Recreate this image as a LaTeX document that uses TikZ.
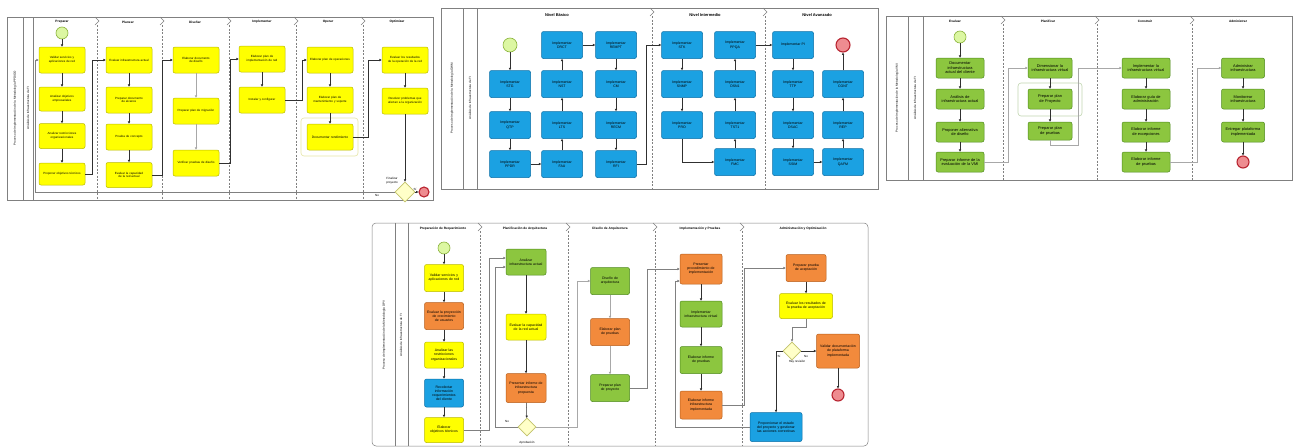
\documentclass[tikz,border=0pt]{standalone}
\usepackage{fontspec}
\setmainfont{Liberation Sans}
\usetikzlibrary{arrows.meta,shapes.geometric}
\hyphenpenalty=10000
\exhyphenpenalty=10000

\definecolor{yelF}{HTML}{FFFF00}\definecolor{yelD}{HTML}{B9B900}
\definecolor{bluF}{HTML}{1BA1E2}\definecolor{bluD}{HTML}{0B6FA6}
\definecolor{grnF}{HTML}{8CC63F}\definecolor{grnD}{HTML}{4E8A1E}
\definecolor{orgF}{HTML}{F28A3C}\definecolor{orgD}{HTML}{B65D1A}
\definecolor{frm}{HTML}{808080}
\definecolor{stF}{HTML}{DCF7A2}\definecolor{stD}{HTML}{8AB33A}
\definecolor{enF}{HTML}{EE8C90}\definecolor{enD}{HTML}{B82430}
\definecolor{gwF}{HTML}{FFFFC8}\definecolor{gwD}{HTML}{C2C26A}
\definecolor{arr}{HTML}{303030}\definecolor{larr}{HTML}{A8A8A8}

% lane separator: small chevron on top, dashed line below
\newcommand\lanesep[3]{%
  \draw[frm,line width=0.4pt] (#1-2,#2) -- (#1+2,#2+4) -- (#1-2,#2+8);
  \draw[frm,line width=0.4pt,dash pattern=on 2pt off 1.5pt] (#1,#2+8) -- (#1,#3);}

\tikzset{
  task/.style={rounded corners=2pt,line width=0.5pt,align=center,inner sep=0.5pt},
  yel/.style={task,fill=yelF,draw=yelD},
  blu/.style={task,fill=bluF,draw=bluD},
  grn/.style={task,fill=grnF,draw=grnD},
  org/.style={task,fill=orgF,draw=orgD},
  evstart/.style={circle,draw=stD,fill=stF,line width=0.6pt,minimum size=#1,inner sep=0pt},
  evend/.style={circle,draw=enD,fill=enF,line width=1.1pt,minimum size=#1,inner sep=0pt},
  gw/.style={diamond,draw=gwD,fill=gwF,line width=0.6pt,minimum size=#1,inner sep=0pt},
  flow/.style={draw=arr,line width=0.5pt,-{Triangle[length=2.3pt,width=2.2pt]}},
  lflow/.style={draw=larr,line width=0.5pt,-{Triangle[length=2.3pt,width=2.2pt]}},
  frame/.style={draw=frm,line width=0.5pt},
  pool/.style={rotate=90,font=\fontsize{3}{3.6}\selectfont},
  hdr/.style={font=\bfseries\fontsize{3.2}{3.8}\selectfont},
  hdrb/.style={font=\bfseries\fontsize{4}{4.8}\selectfont},
  lbl/.style={font=\fontsize{3}{3.6}\selectfont,align=center},
  ta/.style={minimum width=46pt,text width=40pt,font=\fontsize{3}{3.6}\selectfont},
  tb/.style={minimum width=41pt,minimum height=27pt,text width=37pt,font=\fontsize{3.5}{4.2}\selectfont},
  tc/.style={minimum width=48pt,minimum height=20pt,text width=40pt,font=\fontsize{3.9}{4.5}\selectfont},
  td/.style={text width=34pt,font=\fontsize{3.5}{4.1}\selectfont},
  grp/.style={rounded corners=3pt,line width=0.6pt},
}

\begin{document}
\begin{tikzpicture}[x=1pt,y=-1pt]
\useasboundingbox (0,0) rectangle (1298,447);
\fill[white] (0,0) rectangle (1298,447);

%% ================= PPDIOO =================
\draw[frame] (7,17) rectangle (433,200);
\draw[frame] (23,17) -- (23,200);
\draw[frame] (33,17) -- (33,200);
\node[pool] at (15,108) {Proceso de Implementación de la Metodología PPDIOO};
\node[pool] at (28,108) {Análisis de Infraestructura de TI};
\foreach \x in {97,162,229,296,363} {\lanesep{\x}{17}{200}}
\node[hdr] at (62,22) {Preparar};
\node[hdr] at (128,22) {Planear};
\node[hdr] at (195,22) {Diseñar};
\node[hdr] at (262,22) {Implementar};
\node[hdr] at (328,22) {Operar};
\node[hdr] at (397,22) {Optimizar};

\draw[grp,draw=yelD!35] (301,118) rectangle (358,156);

\node[evstart=12pt] (a0) at (62,33) {};
\node[yel,ta,minimum height=26pt] (a1) at (62,60) {Validar servicios y aplicaciones de red};
\node[yel,ta,minimum height=24pt] (a2) at (62,99) {Analizar objetivos empresariales};
\node[yel,ta,minimum height=25pt] (a3) at (62,136) {Analizar restricciones organizacionales};
\node[yel,ta,minimum height=22pt] (a4) at (62,174) {Proponer objetivos técnicos};
\node[yel,ta,minimum height=26pt] (b1) at (129,60) {Evaluar infraestructura actual};
\node[yel,ta,minimum height=26pt] (b2) at (129,100) {Preparar documento de alcance};
\node[yel,ta,minimum height=26pt] (b3) at (129,137) {Prueba de concepto};
\node[yel,ta,minimum height=25pt] (b4) at (129,175) {Evaluar la capacidad de la red actual};
\node[yel,ta,minimum height=26pt] (c1) at (196,60) {Elaborar documento de diseño};
\node[yel,ta,minimum height=26pt] (c2) at (196,111) {Preparar plan de migración};
\node[yel,ta,minimum height=26pt] (c3) at (196,163) {Verificar pruebas de diseño};
\node[yel,ta,minimum height=26pt] (d1) at (262,59) {Elaborar plan de implementación de red};
\node[yel,ta,minimum height=26pt] (d2) at (262,100) {Instalar y configurar};
\node[yel,ta,minimum height=26pt] (e1) at (330,60) {Elaborar plan de operaciones};
\node[yel,ta,minimum height=26pt] (e2) at (330,100) {Elaborar plan de mantenimiento y soporte};
\node[yel,ta,minimum height=26pt,font=\fontsize{3.3}{4}\selectfont] (e3) at (330,137) {Documentar rendimiento};
\node[yel,ta,minimum height=26pt] (f1) at (405,60) {Evaluar los resultados de la operación de la red};
\node[yel,ta,minimum height=26pt] (f2) at (405,101) {Resolver problemas que afectan a la organización};
\node[gw=20pt] (ag) at (405,192) {};
\node[evend=10pt] (aend) at (424,192) {};
\node[lbl] at (392,181) {Finalizar\\proyecto};
\node[lbl] at (377,195.5) {No};
\node[lbl] at (415,189) {Sí};

\draw[flow] (a0) -- (a1);
\draw[flow] (a1) -- (a2);
\draw[flow] (a2) -- (a3);
\draw[flow] (a3) -- (a4);
\draw[flow] (a4.east) -- ++(7,0) |- (b1.west);
\draw[flow] (b1) -- (b2);
\draw[flow] (b2) -- (b3);
\draw[flow] (b3) -- (b4);
\draw[flow] (b4.east) -- ++(10,0) |- (c1.west);
\draw[lflow] (c1) -- (c2);
\draw[lflow] (c2) -- (c3);
\draw[flow] (c3.east) -- ++(11,0) |- (d1.west);
\draw[flow] (d1) -- (d2);
\draw[flow] (d2.east) -- ++(17,0) |- (e1.west);
\draw[flow] (e1) -- (e2);
\draw[flow] (e2) -- (e3);
\draw[flow] (e3.east) -- ++(15,0) |- (f1.west);
\draw[flow] (f1) -- (f2);
\draw[flow] (f2) -- (ag.north);
\draw[flow] (ag.east) -- (aend.west);
\draw[flow,draw=frm] (ag.west) -- ++(-359,0) |- (a1.west);

%% ================= OWM =================
\draw[frame] (441,8) rectangle (878,189);
\draw[frame] (463,8) -- (463,189);
\draw[frame] (477,8) -- (477,189);
\node[pool] at (452,98) {Proceso de Implementación de la Metodología OWM};
\node[pool] at (470,98) {Análisis de Infraestructura de TI};
\foreach \x in {652,765} {\lanesep{\x}{8}{189}}
\node[hdrb] at (557,15) {Nivel Básico};
\node[hdrb] at (705,15) {Nivel Intermedio};
\node[hdrb] at (817,15) {Nivel Avanzado};

\node[evstart=14pt] (s0) at (510,45) {};
\node[blu,tb] (n1) at (510,84) {Implementar\\STG};
\node[blu,tb] (n2) at (510,125) {Implementar\\QTP};
\node[blu,tb] (n3) at (510,164) {Implementar\\PPDR};
\node[blu,tb] (n4) at (562,164) {Implementar\\FAU};
\node[blu,tb] (n5) at (562,125) {Implementar\\LTS};
\node[blu,tb] (n6) at (562,84) {Implementar\\NST};
\node[blu,tb] (n7) at (562,45) {Implementar\\DRCT};
\node[blu,tb] (n8) at (616,45) {Implementar\\REMPT};
\node[blu,tb] (n9) at (616,84) {Implementar\\CM};
\node[blu,tb] (n10) at (616,125) {Implementar\\RECM};
\node[blu,tb] (n11) at (616,164) {Implementar\\RFI};
\node[blu,tb] (m1) at (682,45) {Implementar\\STK};
\node[blu,tb] (m2) at (682,84) {Implementar\\SNMP};
\node[blu,tb] (m3) at (682,125) {Implementar\\PRO};
\node[blu,tb] (m4) at (735,162) {Implementar\\FMC};
\node[blu,tb] (m5) at (735,125) {Implementar\\TST1};
\node[blu,tb] (m6) at (735,84) {Implementar\\DSN1};
\node[blu,tb] (m7) at (735,45) {Implementar\\PPQA};
\node[blu,tb] (v1) at (793,45) {Implementar PI};
\node[blu,tb] (v2) at (793,84) {Implementar\\TTP};
\node[blu,tb] (v3) at (793,125) {Implementar\\DSAC};
\node[blu,tb] (v4) at (793,162) {Implementar\\SSIM};
\node[blu,tb] (v5) at (843,162) {Implementar\\QAFM};
\node[blu,tb] (v6) at (843,125) {Implementar\\REP};
\node[blu,tb] (v7) at (843,84) {Implementar\\CONT};
\node[evend=14pt] (vend) at (843,45) {};

\draw[flow] (s0) -- (n1);
\draw[flow] (n1) -- (n2);
\draw[flow] (n2) -- (n3);
\draw[flow] (n3) -- (n4);
\draw[flow] (n4) -- (n5);
\draw[flow] (n5) -- (n6);
\draw[flow] (n6) -- (n7);
\draw[flow] (n7) -- (n8);
\draw[flow] (n8) -- (n9);
\draw[flow] (n9) -- (n10);
\draw[flow] (n10) -- (n11);
\draw[flow] (n11.east) -- ++(9,0) |- (m1.west);
\draw[flow] (m1) -- (m2);
\draw[flow] (m2) -- (m3);
\draw[flow] (m3.south) |- (m4.west);
\draw[flow] (m4) -- (m5);
\draw[flow] (m5) -- (m6);
\draw[flow] (m6) -- (m7);
\draw[flow] (m7) -- (v1);
\draw[flow] (v1) -- (v2);
\draw[flow] (v2) -- (v3);
\draw[flow] (v3) -- (v4);
\draw[flow] (v4) -- (v5);
\draw[flow] (v5) -- (v6);
\draw[flow] (v6) -- (v7);
\draw[flow] (v7) -- (vend);

%% ================= VMI =================
\draw[frame] (886,16) rectangle (1292,180);
\draw[frame] (908,16) -- (908,180);
\draw[frame] (923,16) -- (923,180);
\node[pool] at (897,98) {Proceso de Implementación de la Metodología VMI};
\node[pool] at (915,98) {Análisis de Infraestructura de TI};
\foreach \x in {1003,1097,1192} {\lanesep{\x}{16}{180}}
\node[hdr] at (955,21) {Evaluar};
\node[hdr] at (1048,21) {Planificar};
\node[hdr] at (1145,21) {Construir};
\node[hdr] at (1238,21) {Administrar};

\draw[grp,draw=grnD!35] (1018,83) rectangle (1082,116);

\node[evstart=12pt] (g0) at (960,37) {};
\node[grn,tc] (g1) at (960,68) {Documentar infraestructura actual del cliente};
\node[grn,tc] (g2) at (960,99) {Análisis de infraestructura actual};
\node[grn,tc] (g3) at (960,132) {Proponer alternativa de diseño};
\node[grn,tc] (g4) at (960,162) {Preparar informe de la evaluación de la VMI};
\node[grn,tc,minimum width=44pt,text width=38pt] (h1) at (1050,68) {Dimensionar la infraestructura virtual};
\node[grn,tc,minimum width=44pt,text width=38pt] (h2) at (1050,99) {Preparar plan de Proyecto};
\node[grn,tc,minimum width=44pt,text width=38pt,minimum height=18pt] (h3) at (1050,131) {Preparar plan de pruebas};
\node[grn,tc] (i1) at (1146,68) {Implementar la infraestructura virtual};
\node[grn,tc] (i2) at (1146,99) {Elaborar guía de administración};
\node[grn,tc] (i3) at (1146,132) {Elaborar informe de excepciones};
\node[grn,tc] (i4) at (1146,162) {Elaborar informe de pruebas};
\node[grn,tc,minimum width=43pt,text width=38pt] (j1) at (1243,68) {Administrar infraestructura};
\node[grn,tc,minimum width=43pt,text width=38pt] (j2) at (1243,99) {Monitorear infraestructura};
\node[grn,tc,minimum width=43pt,text width=38pt] (j3) at (1243,132) {Entregar plataforma implementada};
\node[evend=12pt] (jend) at (1243,162) {};

\draw[flow] (g0) -- (g1);
\draw[flow] (g1) -- (g2);
\draw[flow] (g2) -- (g3);
\draw[flow] (g3) -- (g4);
\draw[lflow] (g4.east) -- ++(24,0) |- (h1.west);
\draw[flow] (h1) -- (h2);
\draw[flow] (h2) -- (h3);
\draw[lflow] (h3.south) -- ++(0,5) -- ++(28,0) |- (i1.west);
\draw[flow] (i1) -- (i2);
\draw[flow] (i2) -- (i3);
\draw[flow] (i3) -- (i4);
\draw[lflow] (i4.east) -- ++(27,0) |- (j1.west);
\draw[flow] (j1) -- (j2);
\draw[flow] (j2) -- (j3);
\draw[flow] (j3) -- (jend);

%% ================= DPV =================
\draw[frame,rounded corners=4pt] (372,223) rectangle (868,446);
\draw[frame] (395,223) -- (395,446);
\draw[frame] (408,223) -- (408,446);
\node[pool] at (384,335) {Proceso de Implementación de la Metodología DPV};
\node[pool] at (401,335) {Análisis de Infraestructura de TI};
\foreach \x in {480,568,655,742} {\lanesep{\x}{223}{446}}
\node[hdr] at (443,229) {Preparación de Requerimiento};
\node[hdr] at (525,229) {Planificación de Arquitectura};
\node[hdr] at (610,229) {Diseño de Arquitectura};
\node[hdr] at (700,229) {Implementación y Pruebas};
\node[hdr] at (803,229) {Administración y Optimización};

\node[evstart=12pt] (k0) at (444,248) {};
\node[yel,td,minimum width=39pt,minimum height=27pt] (k1) at (444,278) {Validar servicios y aplicaciones de red};
\node[org,td,minimum width=39pt,minimum height=27pt] (k2) at (444,316) {Evaluar la proyección de crecimiento de usuarios};
\node[yel,td,minimum width=39pt,minimum height=26pt] (k3) at (444,355) {Analizar las restricciones organizacionales};
\node[blu,td,minimum width=39pt,minimum height=28pt] (k4) at (444,393) {Recolectar información requerimientos del cliente};
\node[yel,td,minimum width=39pt,minimum height=25pt] (k5) at (444,430) {Elaborar objetivos técnicos};
\node[grn,td,minimum width=40pt,minimum height=26pt] (l1) at (526,262) {Analizar infraestructura actual};
\node[yel,td,minimum width=40pt,minimum height=26pt] (l2) at (526,327) {Evaluar la capacidad de la red actual};
\node[org,td,minimum width=40pt,minimum height=29pt] (l3) at (526,388) {Presentar informe de infraestructura propuesta};
\node[gw=18pt] (lg) at (527,427) {};
\node[lbl] at (527,443) {Aprobación};
\node[lbl] at (507,421) {No};
\node[grn,td,minimum width=39pt,minimum height=27pt] (o1) at (610,281) {Diseño de arquitectura};
\node[org,td,minimum width=39pt,minimum height=27pt] (o2) at (610,332) {Elaborar plan de pruebas};
\node[grn,td,minimum width=39pt,minimum height=27pt] (o3) at (610,388) {Preparar plan de proyecto};
\node[org,td,minimum width=42pt,minimum height=30pt,text width=37pt] (q1) at (701,269) {Presentar procedimiento de implementación};
\node[grn,td,minimum width=42pt,minimum height=26pt,text width=37pt] (q2) at (701,314) {Implementar infraestructura virtual};
\node[grn,td,minimum width=42pt,minimum height=27pt,text width=37pt] (q3) at (701,360) {Elaborar informe de pruebas};
\node[org,td,minimum width=42pt,minimum height=28pt,text width=37pt] (q4) at (701,405) {Elaborar informe infraestructura implementada};
\node[org,td,minimum width=40pt,minimum height=27pt] (r1) at (806,268) {Preparar prueba de aceptación};
\node[yel,td,minimum width=53pt,minimum height=25pt,text width=47pt] (r2) at (806,306) {Evaluar los resultados de la prueba de aceptación};
\node[gw=18pt] (rg) at (792,351) {};
\node[lbl] at (779,356) {Sí};
\node[lbl] at (806,356) {No};
\node[lbl] at (797,362) {Hay revisión};
\node[org,td,minimum width=43pt,minimum height=34pt,text width=38pt] (r3) at (838,351) {Validar documentación de plataforma implementada};
\node[evend=12pt] (rend) at (838,395) {};
\node[blu,td,minimum width=52pt,minimum height=29pt,text width=46pt] (r4) at (776,427) {Proporcionar el estado del proyecto y gestionar las acciones correctivas};

\draw[flow] (k0) -- (k1);
\draw[flow] (k1) -- (k2);
\draw[flow] (k2) -- (k3);
\draw[flow] (k3) -- (k4);
\draw[flow] (k4) -- (k5);
\draw[flow,draw=frm] (k5.east) -- ++(25,0) |- ([yshift=4pt]l1.west);
\draw[flow,draw=frm] (lg.west) -- ++(-22,0) |- ([yshift=-5pt]l1.west);
\draw[flow] (l1) -- (l2);
\draw[flow] (l2) -- (l3);
\draw[flow] (l3) -- (lg);
\draw[lflow] (lg.east) -- ++(41,0) |- (o1.west);
\draw[lflow] (o1) -- (o2);
\draw[lflow] (o2) -- (o3);
\draw[flow,draw=frm] (o3.east) -- ++(17,0) |- (q1.west);
\draw[flow,draw=frm] (r4.west) -- ++(-75,0) |- ([yshift=-12pt]q1.west);
\draw[flow] (q1) -- (q2);
\draw[flow] (q2) -- (q3);
\draw[flow] (q3) -- (q4);
\draw[flow,draw=frm] (q4.east) -- ++(22,0) |- (r1.west);
\draw[flow] (r1) -- (r2);
\draw[flow,draw=frm] (r2.south) -- ++(0,8) -| (rg.north);
\draw[flow] (rg.west) -| (r4.north);
\draw[flow] (rg.east) -- (r3.west);
\draw[flow] (r3) -- (rend);
\end{tikzpicture}
\end{document}
